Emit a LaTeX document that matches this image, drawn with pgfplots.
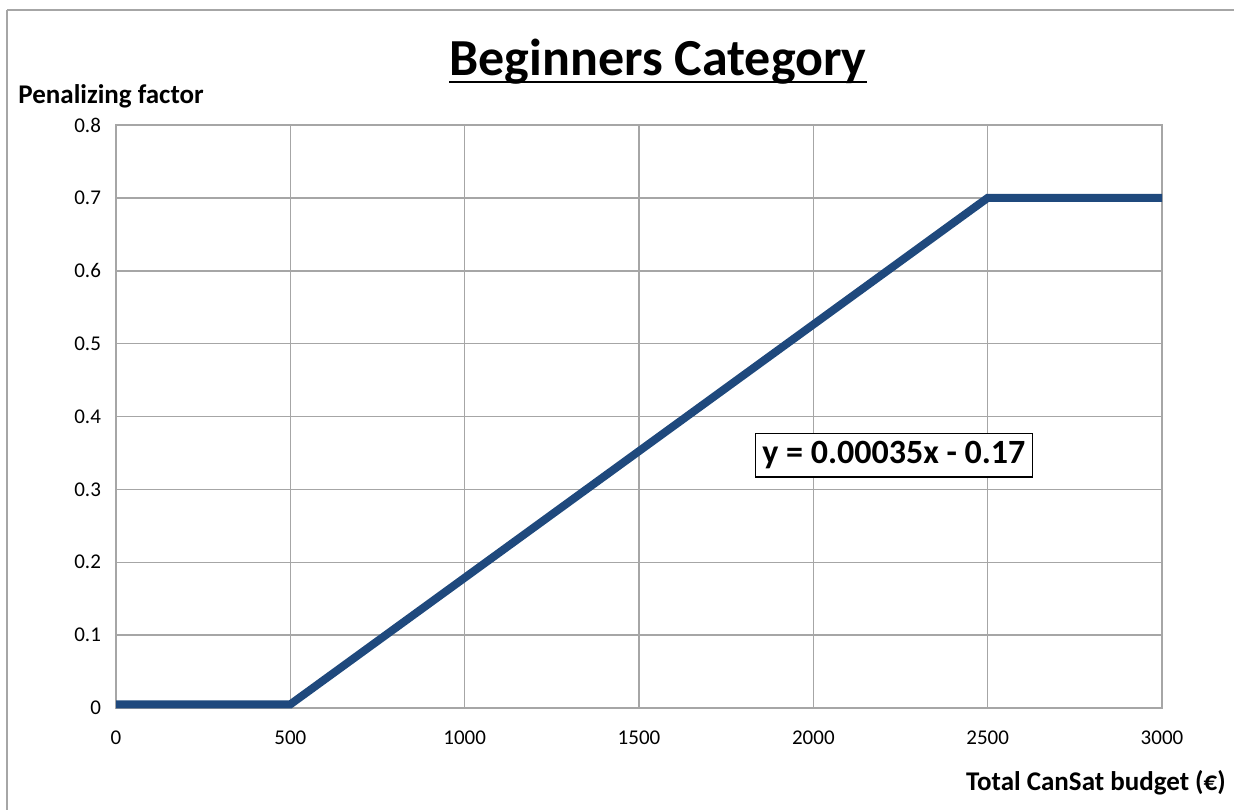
\documentclass[border=0pt]{standalone}
\usepackage{pgfplots}
\pgfplotsset{compat=1.18}
\usepackage{fontspec}
\setmainfont{Carlito}
\definecolor{linec}{HTML}{1F497D}
\definecolor{gridc}{HTML}{A6A6A6}
\begin{document}
\begin{tikzpicture}[x=0.5pt,y=0.5pt]
\useasboundingbox (0,0) rectangle (1234,809);
\draw[gridc,line width=1pt] (7,799) -- (1240,799);
\draw[gridc,line width=1pt] (7,799) -- (7,-10);
\begin{axis}[
  at={(58pt,50.5pt)}, anchor=south west,
  scale only axis, width=523pt, height=291.5pt,
  xmin=0, xmax=3000, ymin=0, ymax=0.8,
  xtick={0,500,...,3000}, ytick={0,0.1,...,0.8},
  grid=major,
  major grid style={gridc,line width=0.75pt},
  axis line style={gridc,line width=0.75pt},
  major tick length=0pt,
  tick label style={font=\fontsize{10.5pt}{12pt}\selectfont},
  /pgf/number format/assume math mode=true,
  yticklabel style={/pgf/number format/fixed,/pgf/number format/precision=1},
  xticklabel style={/pgf/number format/1000 sep={}, yshift=-8pt},
  yticklabel style={xshift=-4pt},
  clip=false,
]
\addplot[linec, line width=4pt, line join=miter] coordinates {(0,0.005) (500,0.005) (2500,0.7) (3000,0.7)};
\node[draw=black, line width=0.6pt, fill=white, inner xsep=3.5pt, inner ysep=4pt,
  font=\fontsize{17pt}{20pt}\selectfont\bfseries] at (axis cs:2231,0.347) {y = 0.00035x - 0.17};
\end{axis}
\node[font=\fontsize{26pt}{30pt}\selectfont\bfseries, inner sep=0pt, anchor=base] (t) at (658,733) {Beginners Category};
\draw[black, line width=1pt] ([yshift=-3pt]t.base west) -- ([yshift=-3pt]t.base east);
\node[font=\fontsize{13.5pt}{16pt}\selectfont\bfseries, anchor=base west, inner sep=0pt] at (18,705) {Penalizing factor};
\node[font=\fontsize{13.5pt}{16pt}\selectfont\bfseries, anchor=base east, inner sep=0pt] at (1226,19) {Total CanSat budget (€)};
\end{tikzpicture}
\end{document}
